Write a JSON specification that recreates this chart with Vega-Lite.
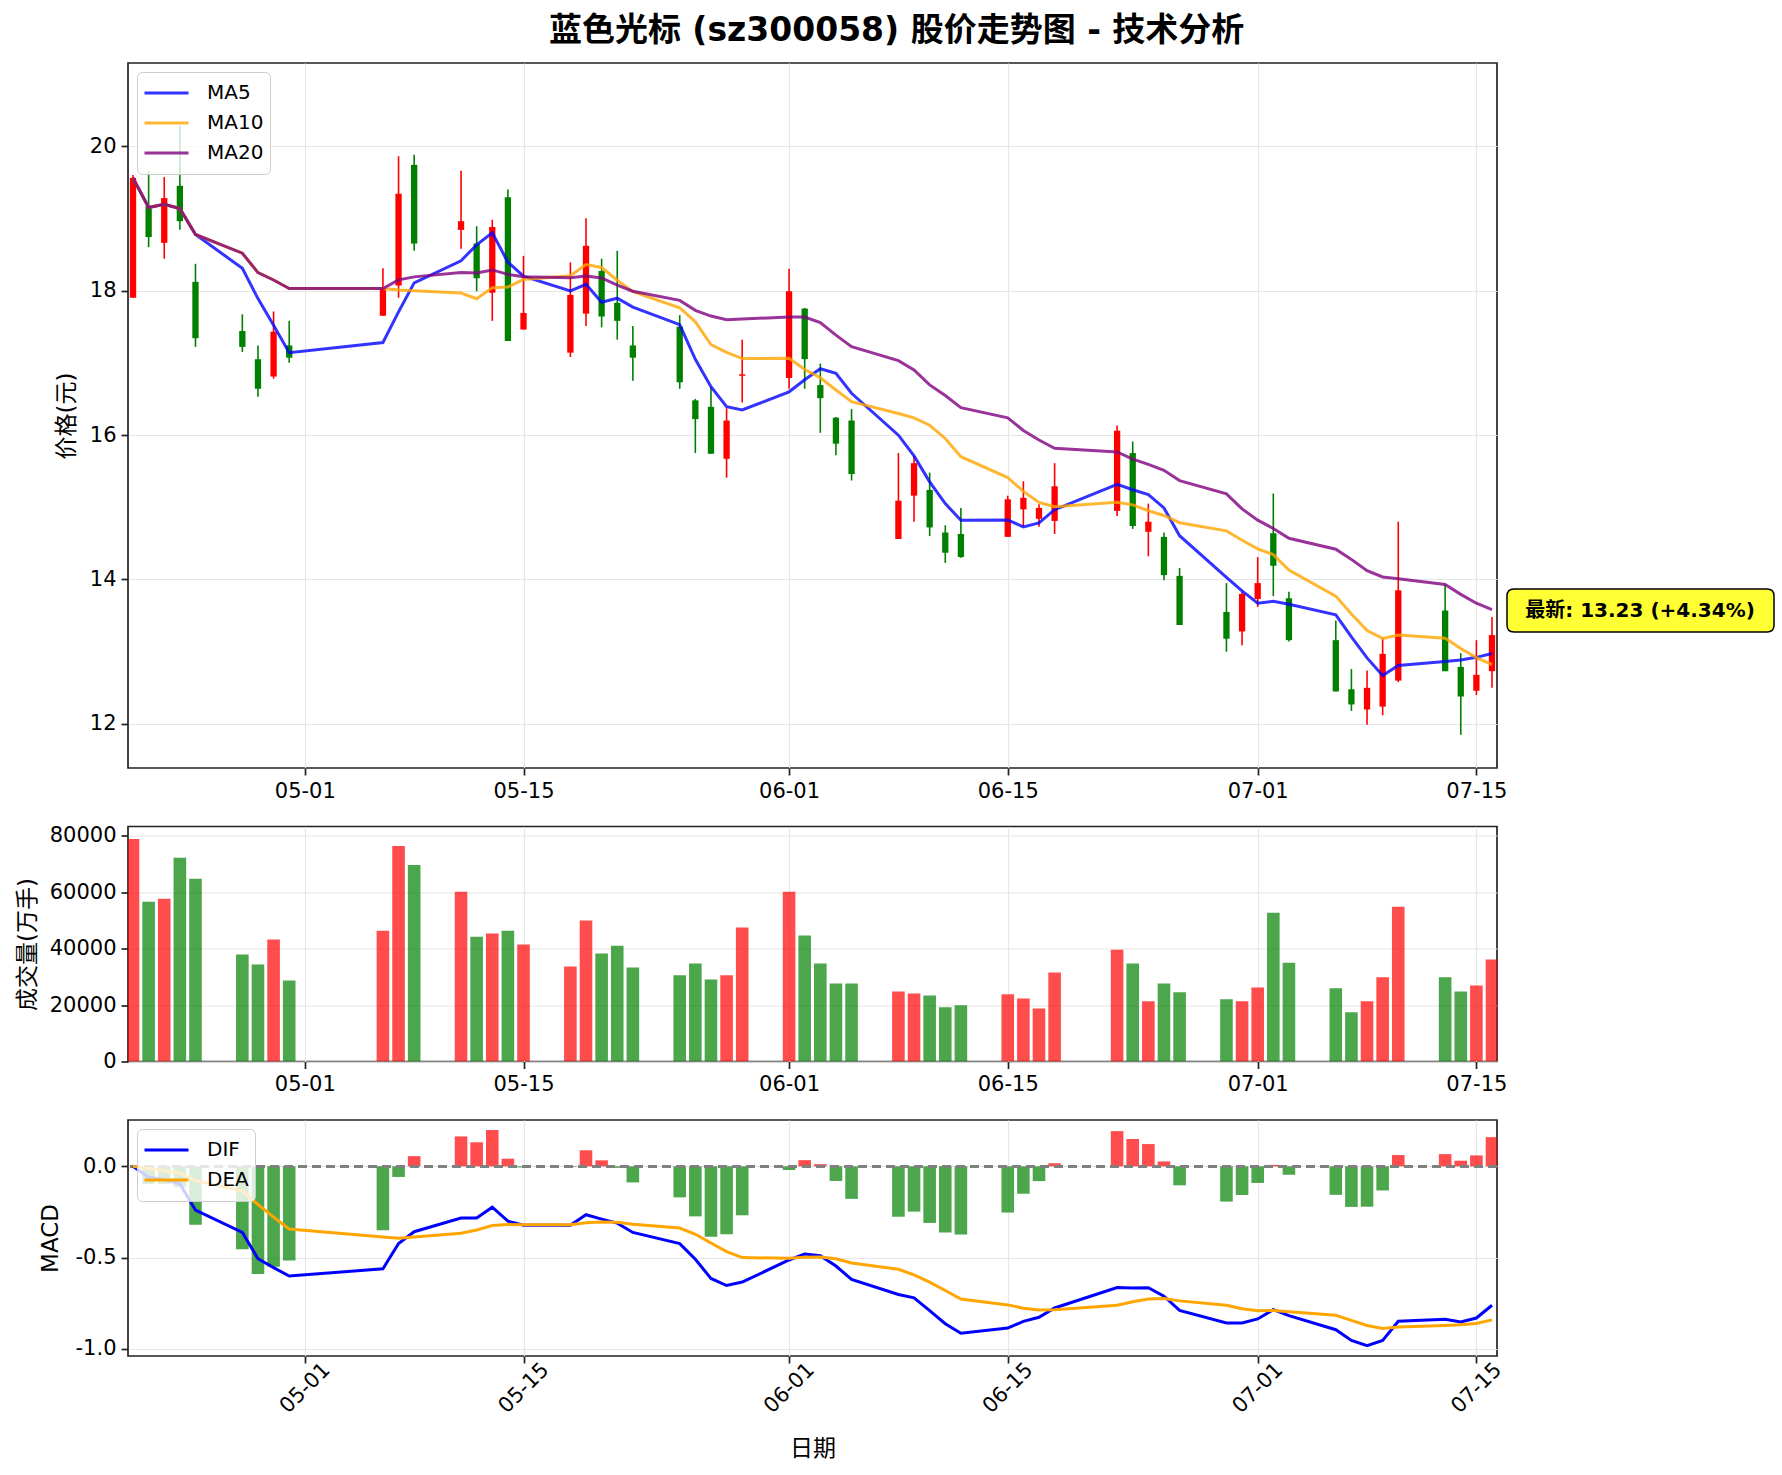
{
  "$schema": "https://vega.github.io/schema/vega-lite/v6.json",
  "background": "white",
  "padding": {"left": 15, "top": 15, "right": 7, "bottom": 10},
  "title": {
    "text": "蓝色光标 (sz300058) 股价走势图 - 技术分析",
    "font": "DejaVu Sans, Noto Sans CJK SC",
    "fontSize": 33,
    "fontWeight": "bold",
    "color": "#000",
    "anchor": "middle",
    "frame": "bounds",
    "offset": 14
  },
  "data": {
    "values": [
      {"date": "2026-04-20", "open": 17.90, "high": 19.60, "low": 17.90, "close": 19.56, "volume": 78800, "DIF": 0, "DEA": 0, "hist": 0},
      {"date": "2026-04-21", "open": 19.17, "high": 19.66, "low": 18.60, "close": 18.74, "volume": 56600, "DIF": -0.060, "DEA": -0.012, "hist": -0.096},
      {"date": "2026-04-22", "open": 18.66, "high": 19.57, "low": 18.44, "close": 19.28, "volume": 57600, "DIF": -0.072, "DEA": -0.024, "hist": -0.096},
      {"date": "2026-04-23", "open": 19.45, "high": 20.28, "low": 18.84, "close": 18.96, "volume": 72100, "DIF": -0.095, "DEA": -0.038, "hist": -0.114},
      {"date": "2026-04-24", "open": 18.12, "high": 18.37, "low": 17.22, "close": 17.34, "volume": 64700, "DIF": -0.240, "DEA": -0.078, "hist": -0.320},
      {"date": "2026-04-27", "open": 17.44, "high": 17.67, "low": 17.15, "close": 17.22, "volume": 37900, "DIF": -0.362, "DEA": -0.135, "hist": -0.454},
      {"date": "2026-04-28", "open": 17.05, "high": 17.24, "low": 16.53, "close": 16.64, "volume": 34300, "DIF": -0.506, "DEA": -0.209, "hist": -0.590},
      {"date": "2026-04-29", "open": 16.81, "high": 17.71, "low": 16.78, "close": 17.43, "volume": 43200, "DIF": -0.555, "DEA": -0.278, "hist": -0.550},
      {"date": "2026-04-30", "open": 17.24, "high": 17.58, "low": 17.00, "close": 17.07, "volume": 28700, "DIF": -0.601, "DEA": -0.343, "hist": -0.516},
      {"date": "2026-05-06", "open": 17.65, "high": 18.31, "low": 17.65, "close": 18.04, "volume": 46300, "DIF": -0.561, "DEA": -0.387, "hist": -0.350},
      {"date": "2026-05-07", "open": 18.07, "high": 19.86, "low": 17.90, "close": 19.34, "volume": 76300, "DIF": -0.423, "DEA": -0.394, "hist": -0.058},
      {"date": "2026-05-08", "open": 19.74, "high": 19.88, "low": 18.55, "close": 18.65, "volume": 69600, "DIF": -0.358, "DEA": -0.387, "hist": 0.056},
      {"date": "2026-05-11", "open": 18.84, "high": 19.66, "low": 18.58, "close": 18.96, "volume": 60100, "DIF": -0.283, "DEA": -0.366, "hist": 0.164},
      {"date": "2026-05-12", "open": 18.65, "high": 18.89, "low": 17.99, "close": 18.17, "volume": 44200, "DIF": -0.283, "DEA": -0.349, "hist": 0.132},
      {"date": "2026-05-13", "open": 17.97, "high": 18.98, "low": 17.58, "close": 18.88, "volume": 45300, "DIF": -0.224, "DEA": -0.324, "hist": 0.199},
      {"date": "2026-05-14", "open": 19.29, "high": 19.40, "low": 17.30, "close": 17.30, "volume": 46300, "DIF": -0.300, "DEA": -0.319, "hist": 0.042},
      {"date": "2026-05-15", "open": 17.46, "high": 18.48, "low": 17.46, "close": 17.69, "volume": 41400, "DIF": -0.322, "DEA": -0.320, "hist": -0.006},
      {"date": "2026-05-18", "open": 17.14, "high": 18.39, "low": 17.08, "close": 17.94, "volume": 33600, "DIF": -0.322, "DEA": -0.320, "hist": -0.004},
      {"date": "2026-05-19", "open": 17.68, "high": 19.00, "low": 17.51, "close": 18.62, "volume": 49900, "DIF": -0.265, "DEA": -0.309, "hist": 0.088},
      {"date": "2026-05-20", "open": 18.27, "high": 18.44, "low": 17.49, "close": 17.64, "volume": 38200, "DIF": -0.289, "DEA": -0.305, "hist": 0.033},
      {"date": "2026-05-21", "open": 17.83, "high": 18.55, "low": 17.32, "close": 17.58, "volume": 41000, "DIF": -0.311, "DEA": -0.306, "hist": -0.008},
      {"date": "2026-05-22", "open": 17.24, "high": 17.51, "low": 16.75, "close": 17.07, "volume": 33300, "DIF": -0.362, "DEA": -0.317, "hist": -0.088},
      {"date": "2026-05-25", "open": 17.50, "high": 17.66, "low": 16.64, "close": 16.73, "volume": 30500, "DIF": -0.423, "DEA": -0.338, "hist": -0.170},
      {"date": "2026-05-26", "open": 16.48, "high": 16.50, "low": 15.75, "close": 16.22, "volume": 34700, "DIF": -0.509, "DEA": -0.372, "hist": -0.274},
      {"date": "2026-05-27", "open": 16.39, "high": 16.66, "low": 15.74, "close": 15.74, "volume": 29000, "DIF": -0.614, "DEA": -0.420, "hist": -0.386},
      {"date": "2026-05-28", "open": 15.67, "high": 16.37, "low": 15.41, "close": 16.20, "volume": 30500, "DIF": -0.653, "DEA": -0.467, "hist": -0.372},
      {"date": "2026-05-29", "open": 16.82, "high": 17.32, "low": 16.45, "close": 16.84, "volume": 47400, "DIF": -0.634, "DEA": -0.500, "hist": -0.268},
      {"date": "2026-06-01", "open": 16.79, "high": 18.30, "low": 16.64, "close": 17.99, "volume": 60100, "DIF": -0.513, "DEA": -0.503, "hist": -0.020},
      {"date": "2026-06-02", "open": 17.75, "high": 17.76, "low": 16.64, "close": 17.05, "volume": 44600, "DIF": -0.480, "DEA": -0.498, "hist": 0.034},
      {"date": "2026-06-03", "open": 16.69, "high": 16.99, "low": 16.03, "close": 16.51, "volume": 34700, "DIF": -0.490, "DEA": -0.496, "hist": 0.012},
      {"date": "2026-06-04", "open": 16.24, "high": 16.25, "low": 15.72, "close": 15.88, "volume": 27600, "DIF": -0.546, "DEA": -0.506, "hist": -0.080},
      {"date": "2026-06-05", "open": 16.20, "high": 16.36, "low": 15.37, "close": 15.46, "volume": 27600, "DIF": -0.619, "DEA": -0.529, "hist": -0.178},
      {"date": "2026-06-08", "open": 14.56, "high": 15.75, "low": 14.56, "close": 15.09, "volume": 24800, "DIF": -0.702, "DEA": -0.564, "hist": -0.276},
      {"date": "2026-06-09", "open": 15.16, "high": 15.71, "low": 14.80, "close": 15.61, "volume": 24100, "DIF": -0.720, "DEA": -0.595, "hist": -0.248},
      {"date": "2026-06-10", "open": 15.24, "high": 15.48, "low": 14.60, "close": 14.72, "volume": 23400, "DIF": -0.790, "DEA": -0.634, "hist": -0.310},
      {"date": "2026-06-11", "open": 14.65, "high": 14.75, "low": 14.23, "close": 14.37, "volume": 19200, "DIF": -0.862, "DEA": -0.680, "hist": -0.363},
      {"date": "2026-06-12", "open": 14.63, "high": 14.99, "low": 14.30, "close": 14.31, "volume": 19900, "DIF": -0.914, "DEA": -0.727, "hist": -0.374},
      {"date": "2026-06-15", "open": 14.59, "high": 15.16, "low": 14.59, "close": 15.11, "volume": 23800, "DIF": -0.886, "DEA": -0.759, "hist": -0.253},
      {"date": "2026-06-16", "open": 14.97, "high": 15.36, "low": 14.73, "close": 15.13, "volume": 22300, "DIF": -0.849, "DEA": -0.777, "hist": -0.150},
      {"date": "2026-06-17", "open": 14.84, "high": 15.04, "low": 14.73, "close": 14.99, "volume": 18800, "DIF": -0.827, "DEA": -0.787, "hist": -0.081},
      {"date": "2026-06-18", "open": 14.81, "high": 15.61, "low": 14.63, "close": 15.29, "volume": 31500, "DIF": -0.776, "DEA": -0.785, "hist": 0.017},
      {"date": "2026-06-22", "open": 14.95, "high": 16.13, "low": 14.88, "close": 16.06, "volume": 39600, "DIF": -0.664, "DEA": -0.761, "hist": 0.193},
      {"date": "2026-06-23", "open": 15.75, "high": 15.91, "low": 14.70, "close": 14.74, "volume": 34700, "DIF": -0.667, "DEA": -0.742, "hist": 0.150},
      {"date": "2026-06-24", "open": 14.66, "high": 15.05, "low": 14.32, "close": 14.80, "volume": 21300, "DIF": -0.665, "DEA": -0.727, "hist": 0.122},
      {"date": "2026-06-25", "open": 14.59, "high": 14.65, "low": 13.99, "close": 14.06, "volume": 27600, "DIF": -0.711, "DEA": -0.724, "hist": 0.027},
      {"date": "2026-06-26", "open": 14.05, "high": 14.16, "low": 13.37, "close": 13.37, "volume": 24500, "DIF": -0.789, "DEA": -0.737, "hist": -0.104},
      {"date": "2026-06-29", "open": 13.55, "high": 13.95, "low": 13.00, "close": 13.18, "volume": 22000, "DIF": -0.858, "DEA": -0.761, "hist": -0.193},
      {"date": "2026-06-30", "open": 13.28, "high": 13.83, "low": 13.09, "close": 13.80, "volume": 21300, "DIF": -0.858, "DEA": -0.780, "hist": -0.157},
      {"date": "2026-07-01", "open": 13.73, "high": 14.31, "low": 13.62, "close": 13.95, "volume": 26200, "DIF": -0.836, "DEA": -0.791, "hist": -0.091},
      {"date": "2026-07-02", "open": 14.64, "high": 15.19, "low": 13.77, "close": 14.19, "volume": 52700, "DIF": -0.785, "DEA": -0.790, "hist": 0.008},
      {"date": "2026-07-03", "open": 13.74, "high": 13.83, "low": 13.14, "close": 13.16, "volume": 35000, "DIF": -0.818, "DEA": -0.796, "hist": -0.046},
      {"date": "2026-07-06", "open": 13.16, "high": 13.43, "low": 12.45, "close": 12.45, "volume": 25900, "DIF": -0.895, "DEA": -0.816, "hist": -0.156},
      {"date": "2026-07-07", "open": 12.48, "high": 12.76, "low": 12.18, "close": 12.27, "volume": 17400, "DIF": -0.954, "DEA": -0.844, "hist": -0.222},
      {"date": "2026-07-08", "open": 12.20, "high": 12.74, "low": 11.99, "close": 12.50, "volume": 21300, "DIF": -0.983, "DEA": -0.872, "hist": -0.221},
      {"date": "2026-07-09", "open": 12.24, "high": 13.19, "low": 12.12, "close": 12.97, "volume": 29800, "DIF": -0.954, "DEA": -0.888, "hist": -0.132},
      {"date": "2026-07-10", "open": 12.60, "high": 14.80, "low": 12.58, "close": 13.85, "volume": 54800, "DIF": -0.849, "DEA": -0.880, "hist": 0.062},
      {"date": "2026-07-13", "open": 13.57, "high": 13.93, "low": 12.73, "close": 12.73, "volume": 29800, "DIF": -0.838, "DEA": -0.872, "hist": 0.067},
      {"date": "2026-07-14", "open": 12.79, "high": 12.98, "low": 11.85, "close": 12.38, "volume": 24800, "DIF": -0.853, "DEA": -0.868, "hist": 0.031},
      {"date": "2026-07-15", "open": 12.46, "high": 13.16, "low": 12.40, "close": 12.68, "volume": 26900, "DIF": -0.831, "DEA": -0.861, "hist": 0.060},
      {"date": "2026-07-16", "open": 12.73, "high": 13.48, "low": 12.50, "close": 13.23, "volume": 36100, "DIF": -0.761, "DEA": -0.841, "hist": 0.160}
    ]
  },
  "vconcat": [
    {
      "width": 1369,
      "height": 705,
      "layer": [
        {
          "mark": {"type": "rule", "strokeWidth": 1.6, "clip": true},
          "encoding": {
            "x": {
              "field": "date", "type": "temporal",
              "scale": {"type": "utc", "domain": [{"year": 2026, "month": 4, "date": 20, "utc": true}, {"year": 2026, "month": 7, "date": 16, "utc": true}]},
              "axis": {
                "title": null, "labelExpr": "utcFormat(datum.value, '%m-%d')", "labelAngle": 0, "labelAlign": "center", "labelBaseline": "top",
                "labelFlush": false, "labelOverlap": false,
                "values": [
                  {"year": 2026, "month": 5, "date": 1, "utc": true}, {"year": 2026, "month": 5, "date": 15, "utc": true},
                  {"year": 2026, "month": 6, "date": 1, "utc": true}, {"year": 2026, "month": 6, "date": 15, "utc": true},
                  {"year": 2026, "month": 7, "date": 1, "utc": true}, {"year": 2026, "month": 7, "date": 15, "utc": true}
                ]
              }
            },
            "y": {
              "field": "low", "type": "quantitative",
              "scale": {"domain": [11.39, 21.15], "zero": false, "nice": false},
              "axis": {"title": "价格(元)", "values": [12, 14, 16, 18, 20], "format": "d", "titlePadding": 11}
            },
            "y2": {"field": "high"},
            "color": {"condition": {"test": "datum.close >= datum.open", "value": "#ff0000"}, "value": "#008000"}
          }
        },
        {
          "mark": {"type": "bar", "width": 6.3, "clip": true},
          "encoding": {
            "x": {"field": "date", "type": "temporal"},
            "y": {"field": "open", "type": "quantitative", "scale": {"domain": [11.39, 21.15], "zero": false, "nice": false}},
            "y2": {"field": "close"},
            "color": {"condition": {"test": "datum.close >= datum.open", "value": "#ff0000"}, "value": "#008000"}
          }
        },
        {
          "transform": [
            {"window": [{"op": "mean", "field": "close", "as": "MA5"}], "frame": [-4, 0], "sort": [{"field": "date"}]},
            {"window": [{"op": "mean", "field": "close", "as": "MA10"}], "frame": [-9, 0], "sort": [{"field": "date"}]},
            {"window": [{"op": "mean", "field": "close", "as": "MA20"}], "frame": [-19, 0], "sort": [{"field": "date"}]},
            {"fold": ["MA5", "MA10", "MA20"], "as": ["key", "value"]}
          ],
          "mark": {"type": "line", "strokeWidth": 3, "strokeOpacity": 0.8, "clip": true},
          "encoding": {
            "x": {"field": "date", "type": "temporal"},
            "y": {"field": "value", "type": "quantitative", "scale": {"domain": [11.39, 21.15], "zero": false, "nice": false}},
            "color": {
              "field": "key", "type": "nominal",
              "scale": {"domain": ["MA5", "MA10", "MA20"], "range": ["#0000ff", "#ffa500", "#800080"]},
              "legend": {
                "title": null, "orient": "top-left", "offset": 9, "symbolType": "stroke", "symbolSize": 1936,
                "symbolStrokeWidth": 3, "symbolOpacity": 0.8, "labelFont": "DejaVu Sans", "labelFontSize": 20, "labelColor": "#000",
                "labelOffset": 17, "clipHeight": 30, "rowPadding": 0, "padding": 6,
                "fillColor": "rgba(255,255,255,0.8)", "strokeColor": "#cccccc", "cornerRadius": 5
              }
            }
          }
        },
        {
          "data": {"values": [{"date": "2026-07-16", "price": 13.23, "label": "最新: 13.23 (+4.34%)"}]},
          "mark": {
            "type": "point", "filled": true, "size": 400, "clip": false, "opacity": 1,
            "shape": "M2.2,-4.6L27.5,-4.6Q28.2,-4.6 28.2,-3.9L28.2,-1.0Q28.2,-0.3 27.5,-0.3L2.2,-0.3Q1.5,-0.3 1.5,-1.0L1.5,-3.9Q1.5,-4.6 2.2,-4.6Z",
            "fill": "#ffff33", "stroke": "#000000", "strokeWidth": 1.5
          },
          "encoding": {
            "x": {"field": "date", "type": "temporal"},
            "y": {"field": "price", "type": "quantitative", "scale": {"domain": [11.39, 21.15], "zero": false, "nice": false}}
          }
        },
        {
          "data": {"values": [{"date": "2026-07-16", "price": 13.23, "label": "最新: 13.23 (+4.34%)"}]},
          "mark": {
            "type": "text", "align": "center", "baseline": "middle", "dx": 148, "dy": -24, "clip": false,
            "font": "DejaVu Sans, Noto Sans CJK SC", "fontSize": 20, "fontWeight": "bold", "color": "#000"
          },
          "encoding": {
            "x": {"field": "date", "type": "temporal"},
            "y": {"field": "price", "type": "quantitative", "scale": {"domain": [11.39, 21.15], "zero": false, "nice": false}},
            "text": {"field": "label"}
          }
        }
      ]
    },
    {
      "width": 1369,
      "height": 235,
      "mark": {"type": "bar", "width": 12.6, "opacity": 0.7, "clip": true},
      "encoding": {
        "x": {
          "field": "date", "type": "temporal",
          "scale": {"type": "utc", "domain": [{"year": 2026, "month": 4, "date": 20, "utc": true}, {"year": 2026, "month": 7, "date": 16, "utc": true}]},
          "axis": {
            "title": null, "labelExpr": "utcFormat(datum.value, '%m-%d')", "labelAngle": 0, "labelAlign": "center", "labelBaseline": "top",
            "labelFlush": false, "labelOverlap": false,
            "values": [
              {"year": 2026, "month": 5, "date": 1, "utc": true}, {"year": 2026, "month": 5, "date": 15, "utc": true},
              {"year": 2026, "month": 6, "date": 1, "utc": true}, {"year": 2026, "month": 6, "date": 15, "utc": true},
              {"year": 2026, "month": 7, "date": 1, "utc": true}, {"year": 2026, "month": 7, "date": 15, "utc": true}
            ]
          }
        },
        "y": {
          "field": "volume", "type": "quantitative",
          "scale": {"domain": [0, 83200], "nice": false},
          "axis": {"title": "成交量(万手)", "values": [0, 20000, 40000, 60000, 80000], "format": "d", "titlePadding": 10}
        },
        "color": {"condition": {"test": "datum.close >= datum.open", "value": "#ff0000"}, "value": "#008000"}
      }
    },
    {
      "width": 1369,
      "height": 236,
      "layer": [
        {
          "mark": {"type": "bar", "width": 12.6, "opacity": 0.7, "clip": true},
          "encoding": {
            "x": {
              "field": "date", "type": "temporal",
              "scale": {"type": "utc", "domain": [{"year": 2026, "month": 4, "date": 20, "utc": true}, {"year": 2026, "month": 7, "date": 16, "utc": true}]},
              "axis": {
                "title": "日期", "titlePadding": 21, "labelExpr": "utcFormat(datum.value, '%m-%d')", "labelAngle": -45, "labelAlign": "center", "labelBaseline": "middle",
                "labelPadding": 25, "labelFlush": false, "labelOverlap": false,
                "values": [
                  {"year": 2026, "month": 5, "date": 1, "utc": true}, {"year": 2026, "month": 5, "date": 15, "utc": true},
                  {"year": 2026, "month": 6, "date": 1, "utc": true}, {"year": 2026, "month": 6, "date": 15, "utc": true},
                  {"year": 2026, "month": 7, "date": 1, "utc": true}, {"year": 2026, "month": 7, "date": 15, "utc": true}
                ]
              }
            },
            "y": {
              "field": "hist", "type": "quantitative",
              "scale": {"domain": [-1.039, 0.254], "zero": false, "nice": false},
              "axis": {"title": "MACD", "values": [-1, -0.5, 0], "labelExpr": "datum.value < 0 ? '-' + format(-datum.value, '.1f') : format(datum.value, '.1f')", "titlePadding": 13}
            },
            "y2": {"datum": 0},
            "color": {"condition": {"test": "datum.hist >= 0", "value": "#ff0000"}, "value": "#008000"}
          }
        },
        {
          "mark": {"type": "rule", "strokeDash": [9, 5], "strokeWidth": 2.5, "color": "#808080", "opacity": 0.55},
          "encoding": {
            "y": {"datum": 0, "type": "quantitative", "scale": {"domain": [-1.039, 0.254], "zero": false, "nice": false}}
          }
        },
        {
          "transform": [{"fold": ["DIF", "DEA"], "as": ["key", "value"]}],
          "mark": {"type": "line", "strokeWidth": 3, "clip": true},
          "encoding": {
            "x": {"field": "date", "type": "temporal"},
            "y": {"field": "value", "type": "quantitative", "scale": {"domain": [-1.039, 0.254], "zero": false, "nice": false}},
            "color": {
              "field": "key", "type": "nominal",
              "scale": {"domain": ["DIF", "DEA"], "range": ["#0000ff", "#ffa500"]},
              "legend": {
                "title": null, "orient": "top-left", "offset": 9, "symbolType": "stroke", "symbolSize": 1936,
                "symbolStrokeWidth": 3, "labelFont": "DejaVu Sans", "labelFontSize": 20, "labelColor": "#000",
                "labelOffset": 17, "clipHeight": 30, "rowPadding": 0, "padding": 6,
                "fillColor": "rgba(255,255,255,0.8)", "strokeColor": "#cccccc", "cornerRadius": 5
              }
            }
          }
        }
      ]
    }
  ],
  "spacing": 58.5,
  "bounds": "flush",
  "resolve": {"scale": {"color": "independent"}, "legend": {"color": "independent"}},
  "config": {
    "view": {"stroke": "#222222", "strokeWidth": 1.7},
    "axis": {
      "domain": false,
      "grid": true,
      "gridColor": "#e6e6e6",
      "gridWidth": 1.2,
      "labelFont": "DejaVu Sans",
      "labelFontSize": 21,
      "labelColor": "#000000",
      "labelPadding": 5,
      "tickColor": "#222222",
      "tickSize": 7,
      "tickWidth": 1.7,
      "titleFont": "DejaVu Sans, Noto Sans CJK SC",
      "titleFontSize": 23,
      "titleFontWeight": "normal",
      "titleColor": "#000000"
    }
  }
}
